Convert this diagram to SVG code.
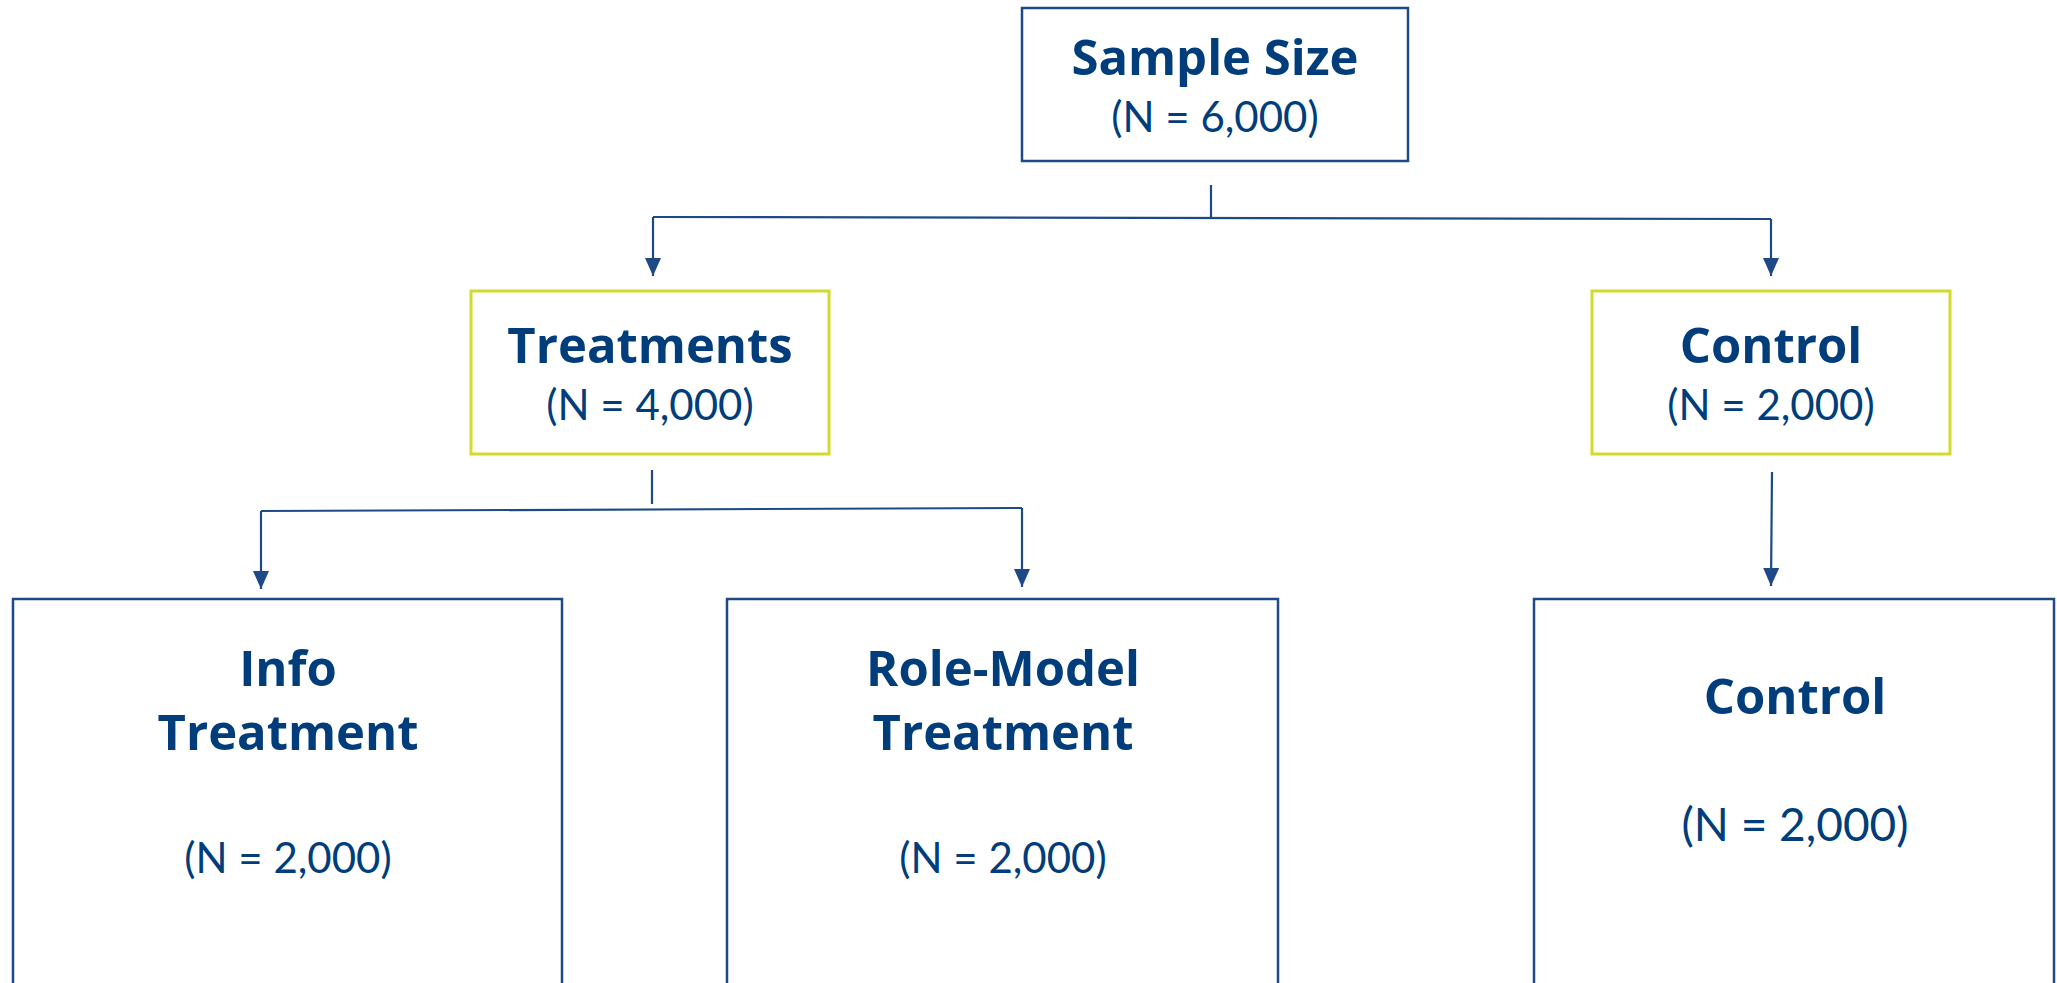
<svg xmlns="http://www.w3.org/2000/svg" width="2057" height="983" viewBox="0 0 2057 983">
<style>
.box{fill:#fff;stroke:#1d4a86;stroke-width:2.5}
.ybox{fill:#fff;stroke:#d3da2e;stroke-width:3}
.t{fill:#003d7a;text-anchor:middle}
.b{font-family:"Open Sans","Liberation Sans",sans-serif;font-weight:bold;font-size:49px}
.r{font-family:Lato,"Liberation Sans",sans-serif;font-size:42px}
.r2{font-family:Lato,"Liberation Sans",sans-serif;font-size:46px}
.ln{fill:none;stroke:#1d4a86;stroke-width:2.2}
</style>
<defs>
<marker id="ad" markerUnits="userSpaceOnUse" markerWidth="18" markerHeight="16" refX="18" refY="8" orient="auto" viewBox="0 0 18 16">
<path d="M0,0 L18,8 L0,16 Z" fill="#1d4a86"/>
</marker>
</defs>
<g id="connectors">
<path class="ln" d="M1211,185 V218"/>
<path class="ln" d="M653,217 L1771,219"/>
<path class="ln" d="M653,217 V276" marker-end="url(#ad)"/>
<path class="ln" d="M1771,219 V276" marker-end="url(#ad)"/>
<path class="ln" d="M652,470 V504"/>
<path class="ln" d="M261,511 L1022,508"/>
<path class="ln" d="M261,511 V589" marker-end="url(#ad)"/>
<path class="ln" d="M1022,508 V587" marker-end="url(#ad)"/>
<path class="ln" d="M1772,472 L1771,586" marker-end="url(#ad)"/>
</g>
<g id="sample">
<rect class="box" x="1022" y="8" width="386" height="153"/>
<text class="t b" x="1215" y="75">Sample Size</text>
<text class="t r" x="1215" y="132">(N = 6,000)</text>
</g>
<g id="treatments">
<rect class="ybox" x="471" y="291" width="358" height="163"/>
<text class="t b" x="650" y="363">Treatments</text>
<text class="t r" x="650" y="420">(N = 4,000)</text>
</g>
<g id="control">
<rect class="ybox" x="1592" y="291" width="358" height="163"/>
<text class="t b" x="1771" y="363">Control</text>
<text class="t r" x="1771" y="420">(N = 2,000)</text>
</g>
<g id="info">
<rect class="box" x="13" y="599" width="549" height="400"/>
<text class="t b" x="288" y="686">Info</text>
<text class="t b" x="288" y="750">Treatment</text>
<text class="t r" x="288" y="873">(N = 2,000)</text>
</g>
<g id="rolemodel">
<rect class="box" x="727" y="599" width="551" height="400"/>
<text class="t b" x="1003" y="686">Role-Model</text>
<text class="t b" x="1003" y="750">Treatment</text>
<text class="t r" x="1003" y="873">(N = 2,000)</text>
</g>
<g id="control2">
<rect class="box" x="1534" y="599" width="520" height="400"/>
<text class="t b" x="1795" y="714">Control</text>
<text class="t r2" x="1795" y="841">(N = 2,000)</text>
</g>
</svg>
